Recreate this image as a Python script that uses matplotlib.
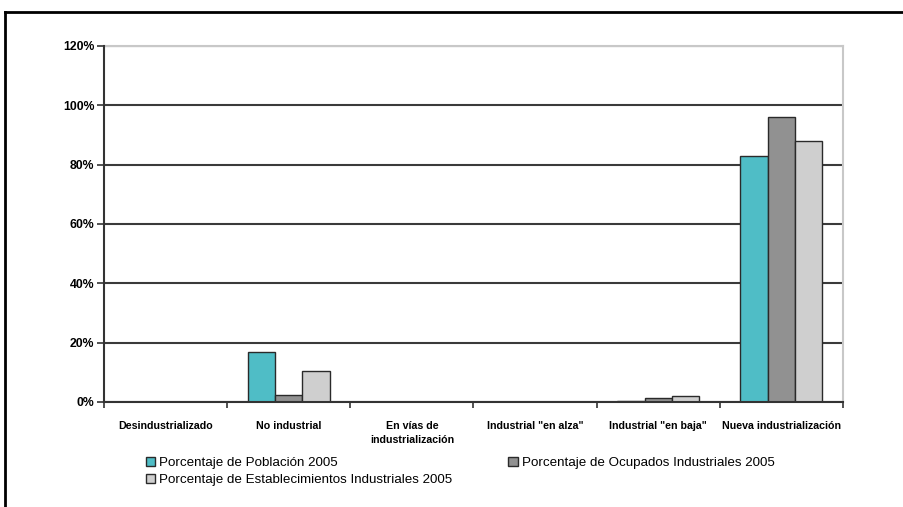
import numpy as np
import matplotlib.pyplot as plt
from matplotlib.lines import Line2D
from matplotlib.ticker import FuncFormatter

categories = ['Desindustrializado', 'No industrial', 'En vías de\nindustrialización',
              'Industrial "en alza"', 'Industrial "en baja"', 'Nueva industrialización']
poblacion = [0.0, 17.0, 0.0, 0.0, 0.3, 83.0]
ocupados = [0.0, 2.5, 0.0, 0.0, 1.2, 96.0]
establecimientos = [0.0, 10.5, 0.0, 0.0, 2.0, 88.0]
series_names = ['Porcentaje de Población 2005',
                'Porcentaje de Ocupados Industriales 2005',
                'Porcentaje de Establecimientos Industriales 2005']
colors = ['#4fbdc6', '#919191', '#cfcfcf']

plt.rcParams['font.family'] = ['Liberation Sans', 'DejaVu Sans']

fig = plt.figure(figsize=(9.04, 5.07), dpi=100)
ax = fig.add_axes([104 / 904, 1 - 402 / 507, (843 - 104) / 904, (402 - 46) / 507])

x = np.arange(len(categories))
w = 1 / 4.5
bars = []
for i, (vals, c) in enumerate(zip([poblacion, ocupados, establecimientos], colors)):
    b = ax.bar(x + (i - 1) * w, vals, w, color=c, edgecolor='#2a2a2a', linewidth=1.0,
               label=series_names[i], zorder=3)
    bars.append(b)

ax.set_xlim(-0.5, len(categories) - 0.5)
ax.set_ylim(0, 120)
ax.set_yticks(np.arange(0, 121, 20))
ax.yaxis.set_major_formatter(FuncFormatter(lambda v, p: '%d%%' % v))
ax.set_xticks(x)
ax.set_xticklabels(categories, fontsize=7.7, fontweight='bold', linespacing=1.5)
ax.tick_params(axis='x', length=0, pad=14)
ax.set_xticks(np.arange(-0.5, len(categories), 1), minor=True)
ax.tick_params(axis='x', which='minor', length=4, width=1.2, color='#333333')
ax.tick_params(axis='y', length=5, width=1.2, color='#333333', labelsize=8.8, pad=2)
for t in ax.get_yticklabels():
    t.set_fontweight('bold')

ax.grid(axis='y', color='#3a3a3a', linewidth=1.5, zorder=0)
for s in ['top', 'right']:
    ax.spines[s].set_color('#c8c8c8')
    ax.spines[s].set_linewidth(1.5)
for s in ['left', 'bottom']:
    ax.spines[s].set_color('#333333')
    ax.spines[s].set_linewidth(1.5)
ax.spines['left'].set_zorder(4)
ax.spines['bottom'].set_zorder(4)

# legend order: row-major (Poblacion, Ocupados / Establecimientos)
handles = [bars[0], bars[2], bars[1]]
labels = [series_names[0], series_names[2], series_names[1]]
leg = fig.legend(handles, labels, ncol=2, loc='upper left',
                 bbox_to_anchor=(139 / 904, 1 - 450 / 507), frameon=False,
                 fontsize=9.6, handlelength=0.7, handleheight=0.7, handletextpad=0.3,
                 columnspacing=4.2, labelspacing=0.35, borderpad=0)

# outer frame
fig.add_artist(Line2D([5 / 904, 5 / 904], [0, 1 - 12 / 507], transform=fig.transFigure,
                      color='black', linewidth=2))
fig.add_artist(Line2D([5 / 904, 1], [1 - 12 / 507, 1 - 12 / 507], transform=fig.transFigure,
                      color='black', linewidth=2))

fig.savefig('out.png', dpi=100)
